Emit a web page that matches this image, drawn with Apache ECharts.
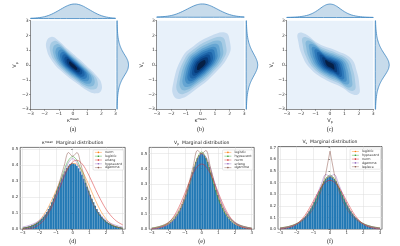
<!DOCTYPE html>
<html><head><meta charset="utf-8">
<script src="https://cdn.jsdelivr.net/npm/echarts@6/dist/echarts.min.js"></script>
<style>html,body{margin:0;padding:0;background:#fff}#c{width:400px;height:246px}</style>
</head><body><div id="c"></div>
<script>
// ---------- data ----------
const kdeTicks = [-3, -2, -1, 0, 1, 2, 3];
const histXTicks = [-3, -2, -1, 0, 1, 2, 3];
const histYTicksD = [0, 0.1, 0.2, 0.3, 0.4, 0.5];
const histYTicksE = [0, 0.1, 0.2, 0.3, 0.4, 0.5];
const histYTicksF = [0, 0.1, 0.2, 0.3, 0.4, 0.5, 0.6, 0.7];
const curveXs = [-3,-2.75,-2.5,-2.25,-2,-1.75,-1.5,-1.25,-1,-0.75,-0.5,-0.25,0,0.25,0.5,0.75,1,1.25,1.5,1.75,2,2.25,2.5,2.75,3];

// outer KDE contour of each joint plot (data coords) and its centre
const contourA = [[-1.55,1.90],[-1.19,1.78],[-0.36,1.06],[0.83,0.05],[1.79,-0.86],[2.02,-1.31],[1.98,-1.76],[1.67,-1.92],[1.19,-1.83],[0.36,-1.31],[-0.83,-0.41],[-1.55,0.38],[-1.86,1.06],[-1.86,1.63]];
const centerA = [0.0, -0.05];
const contourB = [[1.72,2.19],[2.01,1.63],[1.97,0.72],[0.92,-0.63],[-0.46,-1.76],[-1.37,-2.28],[-1.83,-2.10],[-1.88,-1.31],[-1.26,0.50],[-0.46,1.29],[0.69,1.96]];
const centerB = [0.05, 0.0];
const contourC = [[-2.2,2.15],[-1.7,2.1],[-0.8,1.45],[0.5,0.95],[1.45,0.45],[1.85,-0.4],[2.05,-1.5],[2.0,-1.95],[1.6,-2.0],[0.8,-1.5],[-0.4,-0.95],[-1.4,-0.2],[-1.95,0.7],[-2.2,1.6]];
const centerC = [0.0, 0.0];
const levelScales = [1, 0.86, 0.75, 0.65, 0.56, 0.48, 0.4, 0.32, 0.24, 0.15];

// marginal KDE densities at curveXs
const kMeanKde = [0.006,0.011,0.019,0.032,0.052,0.082,0.122,0.172,0.228,0.286,0.34,0.382,0.405,0.405,0.382,0.34,0.284,0.226,0.17,0.12,0.08,0.05,0.03,0.017,0.009];
const vpKde = [0.005,0.008,0.013,0.022,0.035,0.057,0.09,0.14,0.21,0.298,0.393,0.462,0.485,0.462,0.393,0.298,0.21,0.14,0.09,0.057,0.035,0.022,0.013,0.008,0.005];
const vsKde = [0.008,0.012,0.019,0.03,0.046,0.07,0.105,0.154,0.218,0.294,0.371,0.43,0.453,0.43,0.371,0.294,0.218,0.154,0.105,0.07,0.046,0.03,0.019,0.012,0.008];

// histograms, 60 bins of width 0.1 from -3 to 3
const histD = [0.009,0.012,0.014,0.017,0.021,0.025,0.029,0.035,0.041,0.048,0.056,0.066,0.078,0.092,0.108,0.126,0.147,0.169,0.192,0.216,0.241,0.266,0.291,0.317,0.341,0.362,0.381,0.396,0.406,0.411,
  0.41,0.405,0.395,0.38,0.36,0.34,0.315,0.29,0.265,0.24,0.215,0.19,0.168,0.146,0.126,0.108,0.092,0.078,0.066,0.056,0.047,0.04,0.034,0.029,0.024,0.02,0.017,0.014,0.012,0.01];
const histE = [0.006,0.007,0.009,0.011,0.013,0.016,0.019,0.023,0.027,0.033,0.04,0.048,0.058,0.07,0.084,0.1,0.119,0.141,0.167,0.196,0.227,0.262,0.299,0.337,0.376,0.412,0.443,0.47,0.489,0.498,
  0.499,0.489,0.470,0.443,0.411,0.375,0.336,0.298,0.261,0.226,0.195,0.166,0.140,0.118,0.099,0.083,0.069,0.057,0.047,0.039,0.032,0.026,0.022,0.018,0.015,0.012,0.010,0.008,0.007,0.005];
const histF = [0.008,0.01,0.012,0.014,0.017,0.02,0.024,0.029,0.034,0.041,0.049,0.058,0.069,0.082,0.097,0.114,0.134,0.155,0.179,0.205,0.234,0.264,0.296,0.327,0.358,0.387,0.412,0.433,0.447,0.455,
  0.454,0.446,0.432,0.411,0.386,0.357,0.326,0.295,0.263,0.233,0.204,0.178,0.154,0.133,0.114,0.097,0.082,0.069,0.059,0.05,0.042,0.035,0.029,0.025,0.021,0.017,0.015,0.012,0.01,0.009];

// fitted distributions at curveXs
const dNorm = [0.005,0.01,0.018,0.032,0.055,0.088,0.13,0.183,0.24,0.298,0.35,0.39,0.41,0.405,0.375,0.327,0.268,0.207,0.15,0.102,0.065,0.038,0.021,0.011,0.005];
const dLogistic = [0.008,0.012,0.019,0.03,0.046,0.07,0.105,0.154,0.218,0.294,0.371,0.43,0.453,0.43,0.371,0.294,0.218,0.154,0.105,0.07,0.046,0.03,0.019,0.012,0.008];
const dErlang = [0.0,0.002,0.006,0.014,0.03,0.055,0.092,0.14,0.2,0.265,0.33,0.385,0.42,0.43,0.415,0.38,0.33,0.275,0.22,0.17,0.125,0.09,0.062,0.042,0.028];
const dHypsecant = [0.014,0.02,0.028,0.039,0.055,0.078,0.109,0.151,0.207,0.277,0.352,0.415,0.44,0.415,0.352,0.277,0.207,0.151,0.109,0.078,0.055,0.039,0.028,0.02,0.014];
const dDgamma = [0.007,0.011,0.018,0.029,0.045,0.07,0.105,0.155,0.225,0.31,0.40,0.478,0.455,0.478,0.40,0.31,0.225,0.155,0.105,0.07,0.045,0.029,0.018,0.011,0.007];

const eLogistic = [0.005,0.008,0.013,0.022,0.035,0.057,0.09,0.14,0.21,0.298,0.393,0.47,0.5,0.47,0.393,0.298,0.21,0.14,0.09,0.057,0.035,0.022,0.013,0.008,0.005];
const eHypsecant = [0.008,0.0125,0.019,0.028,0.041,0.062,0.092,0.136,0.197,0.281,0.381,0.472,0.51,0.472,0.381,0.281,0.197,0.136,0.092,0.062,0.041,0.028,0.019,0.0125,0.008];
const eNorm = [0.002,0.005,0.012,0.023,0.043,0.073,0.117,0.174,0.24,0.31,0.372,0.415,0.43,0.415,0.372,0.31,0.24,0.174,0.117,0.073,0.043,0.023,0.012,0.005,0.002];
const eErlang = [0.003,0.006,0.01,0.018,0.03,0.05,0.082,0.13,0.198,0.284,0.378,0.458,0.495,0.478,0.41,0.318,0.23,0.158,0.104,0.067,0.042,0.027,0.017,0.011,0.007];
const eDgamma = [0.008,0.013,0.02,0.03,0.046,0.069,0.103,0.152,0.22,0.31,0.42,0.52,0.5,0.52,0.42,0.31,0.22,0.152,0.103,0.069,0.046,0.03,0.02,0.013,0.008];

const fLogistic = [0.008,0.012,0.019,0.03,0.046,0.07,0.105,0.154,0.218,0.294,0.371,0.43,0.453,0.43,0.371,0.294,0.218,0.154,0.105,0.07,0.046,0.03,0.019,0.012,0.008];
const fHypsecant = [0.0116,0.0167,0.024,0.0347,0.05,0.0715,0.103,0.146,0.204,0.279,0.364,0.436,0.465,0.436,0.364,0.279,0.204,0.146,0.103,0.0715,0.05,0.0347,0.024,0.0167,0.0116];
const fNorm = [0.003,0.006,0.013,0.025,0.045,0.077,0.12,0.177,0.242,0.308,0.366,0.406,0.42,0.406,0.366,0.308,0.242,0.177,0.12,0.077,0.045,0.025,0.013,0.006,0.003];
const fDgamma = [0.008,0.012,0.019,0.03,0.046,0.07,0.104,0.153,0.22,0.305,0.395,0.47,0.455,0.47,0.395,0.305,0.22,0.153,0.104,0.07,0.046,0.03,0.019,0.012,0.008];
const fLaplace = [0.012,0.0168,0.0235,0.033,0.046,0.064,0.09,0.126,0.176,0.245,0.344,0.48,0.67,0.48,0.344,0.245,0.176,0.126,0.09,0.064,0.046,0.033,0.0235,0.0168,0.012];

// ---------- styling ----------
const FONT = 'DejaVu Sans';
const levelColors = ['#c6dbef','#a6cbe4','#85b9db','#65a5d2','#4890c6','#2f7aba','#1d64a8','#0f4f94','#083a78','#061f45'];
const C = {orange:'#ff7f0e', green:'#2ca02c', red:'#d62728', purple:'#9467bd', brown:'#8c564b'};
const minusFmt = v => (v < 0 ? '\u2212' + Math.abs(v) : String(v));
const rich = {
  n: {fontSize: 5, fontFamily: FONT, color: '#222'},
  sup: {fontSize: 3.2, fontFamily: FONT, color: '#222', padding: [0, 0, 3, 0]},
  sub: {fontSize: 3.2, fontFamily: FONT, color: '#222', padding: [3, 0, 0, 0]}
};
const KMEAN = '{n|κ}{sup|mean}';
const VP = '{n|V}{sub|p}';
const VS = '{n|V}{sub|s}';

const grids = [], xAxes = [], yAxes = [], series = [], legends = [], titles = [];
function addGrid(g) { grids.push(Object.assign({containLabel: false}, g)); return grids.length - 1; }
function hiddenAxis(gi, min, max) { return {gridIndex: gi, type: 'value', min, max, show: false}; }

function kdePanel(p, contour, center, topVals, rightVals, xName, yName) {
  const gm = addGrid({left: p.left, top: p.top, width: p.w, height: p.h, show: true, backgroundColor: '#e8f1fa', borderWidth: 0});
  const axCommon = {
    type: 'value', min: -3, max: 3, interval: 1,
    axisLine: {show: true, onZero: false, lineStyle: {color: '#444', width: 0.6}},
    axisTick: {show: true, length: 1.5, lineStyle: {color: '#444', width: 0.5}},
    axisLabel: {fontSize: 4.5, color: '#333', margin: 1.8, formatter: minusFmt, fontFamily: FONT},
    splitLine: {show: false},
    nameLocation: 'middle', nameTextStyle: {rich}
  };
  xAxes.push(Object.assign({gridIndex: gm, name: xName, nameGap: 8}, axCommon));
  yAxes.push(Object.assign({gridIndex: gm, name: yName, nameGap: p.yGap, nameRotate: 90}, axCommon));
  const ax = xAxes.length - 1, ay = yAxes.length - 1;
  series.push({
    type: 'custom', xAxisIndex: ax, yAxisIndex: ay, silent: true, clip: true,
    data: levelScales.map((s, i) => [0, 0, i]),
    renderItem: (params, api) => {
      const i = api.value(2), s = levelScales[i];
      const pts = contour.map(q => api.coord([center[0] + s * (q[0] - center[0]), center[1] + s * (q[1] - center[1])]));
      return {type: 'polygon', shape: {points: pts, smooth: 0.45}, style: {fill: levelColors[i]}};
    }
  });
  // top marginal
  const gt = addGrid({left: p.left, top: p.tTop, width: p.w, height: p.top - p.tTop - p.tGap});
  xAxes.push(hiddenAxis(gt, -3, 3));
  yAxes.push(hiddenAxis(gt, 0, Math.max(...topVals) * 1.04));
  series.push({
    type: 'custom', xAxisIndex: xAxes.length - 1, yAxisIndex: yAxes.length - 1, silent: true, clip: false,
    data: [[0, 0]],
    renderItem: (params, api) => {
      const pts = curveXs.map((x, i) => api.coord([x, topVals[i]]));
      pts.push(api.coord([3, 0])); pts.unshift(api.coord([-3, 0]));
      return {type: 'polygon', shape: {points: pts, smooth: 0.2}, style: {fill: 'rgba(70,135,190,0.3)', stroke: '#3f86c2', lineWidth: 0.8}};
    }
  });
  // right marginal
  const gr = addGrid({left: p.left + p.w + p.rGap, top: p.top, width: p.rW, height: p.h});
  xAxes.push(hiddenAxis(gr, 0, Math.max(...rightVals) * 1.04));
  yAxes.push(hiddenAxis(gr, -3, 3));
  series.push({
    type: 'custom', xAxisIndex: xAxes.length - 1, yAxisIndex: yAxes.length - 1, silent: true, clip: false,
    data: [[0, 0]],
    renderItem: (params, api) => {
      const pts = curveXs.map((y, i) => api.coord([rightVals[i], y]));
      pts.push(api.coord([0, 3])); pts.unshift(api.coord([0, -3]));
      return {type: 'polygon', shape: {points: pts, smooth: 0.2}, style: {fill: 'rgba(70,135,190,0.3)', stroke: '#3f86c2', lineWidth: 0.8}};
    }
  });
}

function histPanel(p, hist, yTicks, curves, title, tag) {
  const g = addGrid({left: p.left, top: p.top, width: p.w, height: p.h, show: true, backgroundColor: '#fff', borderColor: '#222', borderWidth: 0.6});
  xAxes.push({
    gridIndex: g, type: 'value', min: p.xMin, max: p.xMax,
    axisLine: {show: false},
    axisTick: {show: true, length: 1.5, customValues: histXTicks, lineStyle: {color: '#222', width: 0.5}},
    axisLabel: {fontSize: 4, color: '#333', margin: 2, customValues: histXTicks, formatter: minusFmt, fontFamily: FONT},
    splitLine: {show: true, lineStyle: {color: '#dcdcdc', width: 0.5}}
  });
  yAxes.push({
    gridIndex: g, type: 'value', min: 0, max: p.yMax,
    axisLine: {show: false},
    axisTick: {show: true, length: 1.5, customValues: yTicks, lineStyle: {color: '#222', width: 0.5}},
    axisLabel: {fontSize: 4, color: '#333', margin: 2, customValues: yTicks, formatter: v => v.toFixed(1), fontFamily: FONT},
    splitLine: {show: true, lineStyle: {color: '#dcdcdc', width: 0.5}}
  });
  const ax = xAxes.length - 1, ay = yAxes.length - 1;
  const binW = 0.1, binStart = -3;
  series.push({
    type: 'custom', xAxisIndex: ax, yAxisIndex: ay, silent: true, clip: true,
    data: hist.map((v, i) => [binStart + binW * (i + 0.5), v]),
    renderItem: (params, api) => {
      const x = api.value(0), v = api.value(1);
      const a = api.coord([x - binW / 2, v]), b = api.coord([x + binW / 2, 0]);
      return {type: 'rect', shape: {x: a[0], y: a[1], width: b[0] - a[0], height: b[1] - a[1]},
        style: {fill: '#2077b4', stroke: 'rgba(255,255,255,0.15)', lineWidth: 0.25}};
    }
  });
  const names = [];
  curves.forEach(c => {
    const nm = c.name + '#' + tag;
    names.push(nm);
    series.push({
      type: 'line', name: nm, xAxisIndex: ax, yAxisIndex: ay, symbol: 'none', smooth: c.smooth === undefined ? 0.35 : c.smooth,
      data: curveXs.map((x, i) => [x, c.vals[i]]),
      lineStyle: {color: c.color, width: 0.7, opacity: 0.7},
      itemStyle: {color: c.color}, z: 3
    });
  });
  legends.push({
    data: names, orient: 'vertical', right: p.legRight, top: p.top + 2.5,
    formatter: n => n.split('#')[0],
    itemWidth: 7, itemHeight: 2, itemGap: 0.8, padding: [1, 1.5, 1, 1.5],
    lineStyle: {width: 0.7, opacity: 0.6},
    backgroundColor: 'rgba(255,255,255,0.85)', borderColor: '#d0d0d0', borderWidth: 0.5, borderRadius: 1,
    textStyle: {fontSize: 3.3, color: '#333', fontFamily: FONT, padding: [0, 0, 0, -2]},
    selectedMode: false
  });
  titles.push({
    text: title, left: p.left + p.w / 2, top: p.top - 7, textAlign: 'center', padding: 0,
    textStyle: {fontSize: 4.6, fontWeight: 'normal', color: '#222', fontFamily: FONT, rich: {
      n: {fontSize: 4.6, fontFamily: FONT, color: '#222'},
      sup: {fontSize: 3, fontFamily: FONT, color: '#222', padding: [0, 0, 2.5, 0]},
      sub: {fontSize: 3, fontFamily: FONT, color: '#222', padding: [2.5, 0, 0, 0]}
    }}
  });
}

kdePanel({left: 30.5, top: 20.7, w: 85, h: 88.6, yGap: 8, tTop: 3.5, tGap: 2.2, rGap: 1.5, rW: 12}, contourA, centerA, kMeanKde, vpKde, KMEAN, VP);
kdePanel({left: 156.7, top: 20.7, w: 87.5, h: 88.6, yGap: 7, tTop: 3.5, tGap: 3.5, rGap: 2, rW: 12}, contourB, centerB, kMeanKde, vsKde, KMEAN, VS);
kdePanel({left: 286.7, top: 20.7, w: 86.6, h: 88.6, yGap: 8, tTop: 3.5, tGap: 3.2, rGap: 2, rW: 14.5}, contourC, centerC, vpKde, vsKde, VP, VS);

histPanel({left: 20.2, top: 147.4, w: 105, h: 81.9, xMin: -3.15, xMax: 3.15, yMax: 0.51, legRight: 276.5}, histD, histYTicksD, [
  {name: 'norm', vals: dNorm, color: C.orange},
  {name: 'logistic', vals: dLogistic, color: C.green},
  {name: 'erlang', vals: dErlang, color: C.red},
  {name: 'hypsecant', vals: dHypsecant, color: C.purple},
  {name: 'dgamma', vals: dDgamma, color: C.brown}
], '{n|κ}{sup|mean}{n|  Marginal distribution}', 'd');
histPanel({left: 149.2, top: 147.4, w: 105, h: 81.9, xMin: -3.15, xMax: 3.15, yMax: 0.54, legRight: 147}, histE, histYTicksE, [
  {name: 'logistic', vals: eLogistic, color: C.orange},
  {name: 'hypsecant', vals: eHypsecant, color: C.green},
  {name: 'norm', vals: eNorm, color: C.red},
  {name: 'erlang', vals: eErlang, color: C.purple},
  {name: 'dgamma', vals: eDgamma, color: C.brown}
], '{n|V}{sub|p}{n|  Marginal distribution}', 'e');
histPanel({left: 278, top: 146.5, w: 104, h: 82.8, xMin: -3.12, xMax: 3.12, yMax: 0.71, legRight: 19.5}, histF, histYTicksF, [
  {name: 'logistic', vals: fLogistic, color: C.orange},
  {name: 'hypsecant', vals: fHypsecant, color: C.green},
  {name: 'norm', vals: fNorm, color: C.red},
  {name: 'dgamma', vals: fDgamma, color: C.purple},
  {name: 'laplace', vals: fLaplace, color: C.brown, smooth: false}
], '{n|V}{sub|s}{n|  Marginal distribution}', 'f');

const captions = [['(a)', 73, 129], ['(b)', 200.5, 129], ['(c)', 330, 129], ['(d)', 72.7, 241], ['(e)', 201.7, 241], ['(f)', 330, 241]];
const graphic = captions.map(c => ({
  type: 'text', x: c[1], y: c[2], silent: true,
  style: {text: c[0], fontSize: 6, fontFamily: 'Liberation Serif', fill: '#222', align: 'center', verticalAlign: 'middle'}
}));

const chart = echarts.init(document.getElementById('c'), null, {renderer: 'canvas'});
chart.setOption({
  animation: false,
  backgroundColor: '#fff',
  grid: grids, xAxis: xAxes, yAxis: yAxes, series, legend: legends, title: titles, graphic
});
</script></body></html>
